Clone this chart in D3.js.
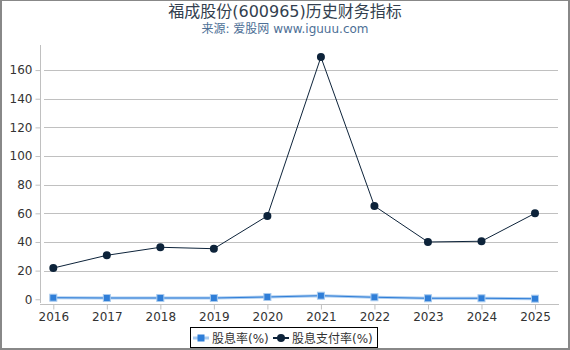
<!DOCTYPE html>
<html>
<head>
<meta charset="utf-8">
<script src="https://cdn.jsdelivr.net/npm/d3@7"></script>
<style>
  body { margin: 0; background: #fff; }
  svg { display: block; font-family: "DejaVu Sans", "Noto Sans CJK SC", sans-serif; }
</style>
</head>
<body>
<svg class="chart"></svg>
<script>
// data
var years = ["2016", "2017", "2018", "2019", "2020", "2021", "2022", "2023", "2024", "2025"];
var yieldPct = [1.1, 0.9, 0.9, 0.9, 1.6, 2.5, 1.4, 0.7, 0.7, 0.4];
var payoutPct = [21.8, 30.7, 36.3, 35.3, 58.2, 169.1, 65.1, 40.0, 40.5, 60.0];
var yTicks = [0, 20, 40, 60, 80, 100, 120, 140, 160];
var seriesNames = ["股息率(%)", "股息支付率(%)"];

var W = 570, H = 350;
var svg = d3.select(".chart").attr("width", W).attr("height", H);

// outer frame
svg.append("rect")
    .attr("x", 0.5).attr("y", 0.5)
    .attr("width", W - 2).attr("height", H - 2)
    .attr("fill", "#fff")
    .attr("stroke", "#888")
    .attr("stroke-width", 1);
svg.append("line").attr("x1", 1).attr("x2", 1).attr("y1", 0).attr("y2", H).attr("stroke", "#888").attr("stroke-width", 2);
svg.append("line").attr("x1", W - 1).attr("x2", W - 1).attr("y1", 0).attr("y2", H).attr("stroke", "#888").attr("stroke-width", 2);
svg.append("line").attr("x1", 0).attr("x2", W).attr("y1", H - 1).attr("y2", H - 1).attr("stroke", "#888").attr("stroke-width", 2);

// titles
svg.append("text")
    .attr("x", 285).attr("y", 17)
    .attr("text-anchor", "middle")
    .attr("font-size", 16)
    .attr("fill", "#333f4f")
    .text("福成股份(600965)历史财务指标");
svg.append("text")
    .attr("x", 285).attr("y", 33)
    .attr("text-anchor", "middle")
    .attr("font-size", 12)
    .attr("fill", "#4d6f96")
    .text("来源: 爱股网 www.iguuu.com");

// scales
var x = d3.scalePoint().domain(years).range([53.3, 535]);
var y = d3.scaleLinear().domain([-2.6, 177.5]).range([303, 45]);

// grid
svg.append("g").selectAll("line")
    .data(yTicks.slice(1))
    .join("line")
    .attr("x1", 44).attr("x2", 558)
    .attr("y1", function(d) { return Math.round(y(d)) + 0.5; })
    .attr("y2", function(d) { return Math.round(y(d)) + 0.5; })
    .attr("stroke", "#c0c0c0")
    .attr("stroke-width", 1);

// y axis
var yAxis = svg.append("g")
    .attr("transform", "translate(40.5,0)")
    .call(d3.axisLeft(y).tickValues(yTicks).tickSize(5).tickPadding(3));
yAxis.select(".domain").attr("stroke", "#c0c0c0").attr("d", "M0,45V303");
yAxis.selectAll(".tick line").attr("stroke", "#c0c0c0");
yAxis.selectAll(".tick text").attr("font-size", 12).attr("fill", "#333").attr("font-family", "DejaVu Sans");

// x axis
var xAxis = svg.append("g")
    .attr("transform", "translate(0,304.5)")
    .call(d3.axisBottom(x).tickSize(5).tickPadding(3));
xAxis.select(".domain").attr("stroke", "#c0c0c0").attr("d", "M40,0H559");
xAxis.selectAll(".tick line").attr("stroke", "#c0c0c0");
xAxis.selectAll(".tick text").attr("font-size", 12).attr("fill", "#333").attr("font-family", "DejaVu Sans");

// dividend yield line (blue, with light halo)
var lineYield = d3.line()
    .x(function(d, i) { return x(years[i]); })
    .y(function(d) { return y(d); });
svg.append("path")
    .datum(yieldPct)
    .attr("d", lineYield)
    .attr("fill", "none")
    .attr("stroke", "#a9cbef")
    .attr("stroke-width", 3);
svg.append("path")
    .datum(yieldPct)
    .attr("d", lineYield)
    .attr("fill", "none")
    .attr("stroke", "#2f7ed8")
    .attr("stroke-width", 1);
svg.append("g").selectAll("rect")
    .data(yieldPct)
    .join("rect")
    .attr("x", function(d, i) { return x(years[i]) - 3.5; })
    .attr("y", function(d) { return y(d) - 3.5; })
    .attr("width", 7).attr("height", 7)
    .attr("fill", "#2f7ed8")
    .attr("stroke", "#a9cbef")
    .attr("stroke-width", 1);

// payout ratio line (dark navy)
svg.append("path")
    .datum(payoutPct)
    .attr("d", lineYield)
    .attr("fill", "none")
    .attr("stroke", "#0d233a")
    .attr("stroke-width", 1);
svg.append("g").selectAll("circle")
    .data(payoutPct)
    .join("circle")
    .attr("cx", function(d, i) { return x(years[i]); })
    .attr("cy", function(d) { return y(d); })
    .attr("r", 4)
    .attr("fill", "#0d233a");

// legend
var legend = svg.append("g");
legend.append("rect")
    .attr("x", 190.5).attr("y", 327.5)
    .attr("width", 187).attr("height", 20)
    .attr("fill", "#fff")
    .attr("stroke", "#000")
    .attr("stroke-width", 1);
legend.append("line").attr("x1", 193).attr("x2", 209).attr("y1", 338).attr("y2", 338).attr("stroke", "#a9cbef").attr("stroke-width", 3);
legend.append("rect").attr("x", 197.5).attr("y", 334.5).attr("width", 7).attr("height", 7).attr("fill", "#2f7ed8");
legend.append("text").attr("x", 212).attr("y", 342.5).attr("font-size", 12).attr("fill", "#333").text(seriesNames[0]);
legend.append("line").attr("x1", 273).attr("x2", 289).attr("y1", 338).attr("y2", 338).attr("stroke", "#0d233a").attr("stroke-width", 2);
legend.append("circle").attr("cx", 281).attr("cy", 338).attr("r", 4).attr("fill", "#0d233a");
legend.append("text").attr("x", 292).attr("y", 342.5).attr("font-size", 12).attr("fill", "#333").text(seriesNames[1]);
</script>
</body>
</html>
